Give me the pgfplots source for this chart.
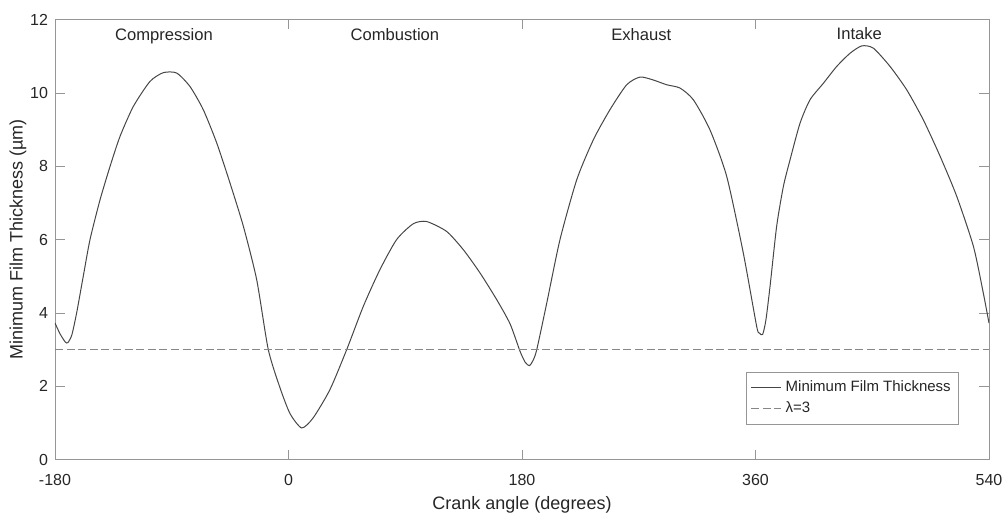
\documentclass[border=0pt]{standalone}
\usepackage{fontspec}
\setmainfont{Liberation Sans}
\usepackage{pgfplots}
\pgfplotsset{compat=1.18}
\definecolor{axgray}{RGB}{150,150,150}
\definecolor{curve}{RGB}{70,70,70}
\definecolor{txt}{RGB}{38,38,38}
\begin{document}
\begin{tikzpicture}
\begin{axis}[
    scale only axis,
    width=467pt, height=220pt,
    xmin=-180, xmax=540, ymin=0, ymax=12,
    xtick={-180,0,180,360,540},
    ytick={0,2,4,6,8,10,12},
    tick align=inside,
    major tick length=5pt,
    axis line style={axgray},
    tick style={axgray},
    /pgf/number format/assume math mode=true,
    ticklabel style={font=\fontsize{8}{9}\selectfont, text=txt},
    xticklabel style={yshift=-4pt},
    xlabel={Crank angle (degrees)},
    ylabel={Minimum Film Thickness (µm)},
    label style={font=\fontsize{9}{10}\selectfont, text=txt},
    xlabel style={yshift=1.5pt},
    ylabel style={yshift=-5pt},
    legend style={at={(rel axis cs:0.968,0.08)}, anchor=south east,
        draw=axgray, font=\fontsize{7.5}{9}\selectfont, text=txt,
        inner sep=2pt, row sep=0pt},
    legend cell align=left,
    legend image code/.code={\draw[#1] (0cm,0cm) -- (15pt,0cm);},
]
\addplot[curve, line width=0.5pt, smooth, tension=0.4] coordinates {
(-180,3.72) (-176,3.42) (-172,3.20) (-170,3.19) (-167,3.40) (-163.3,4.0)
(-158.2,5.0) (-153,6.0) (-145.3,7.08) (-137.6,7.99) (-129.9,8.81)
(-119.6,9.63) (-106.8,10.31) (-96.5,10.55) (-86.2,10.54) (-75.9,10.17)
(-65.7,9.54) (-55.3,8.63) (-45.1,7.54) (-34.8,6.36) (-24.5,4.90)
(-15.6,3.0) (-6.5,1.95) (1.2,1.25) (10.2,0.86) (19.1,1.14) (32,1.91)
(44.9,3.0) (57.7,4.18) (70.5,5.18) (83.4,6.0) (96.2,6.43) (106.5,6.49)
(121.9,6.22) (134.8,5.72) (147.6,5.09) (160.5,4.36) (170.8,3.7)
(178.5,2.95) (182.5,2.65) (185.7,2.56) (188.5,2.70) (191.4,3.0)
(199.1,4.27) (209.3,6.0) (222.2,7.63) (235,8.72) (247.8,9.54)
(260.7,10.22) (271,10.43) (281.2,10.35) (291.5,10.22) (301.8,10.13)
(312.1,9.81) (324.9,8.99) (337.8,7.72) (350.6,5.63) (360.9,3.63)
(363,3.45) (365.5,3.41) (368,3.80) (371.2,4.72) (376.3,6.36)
(381.5,7.45) (386.6,8.17) (394.3,9.17) (402,9.81) (412.3,10.26)
(422.6,10.72) (432.9,11.08) (441.9,11.28) (450.8,11.22) (463.7,10.72)
(476.6,10.08) (489.4,9.26) (502.3,8.27) (515.1,7.18) (528,5.81)
(535.6,4.54) (540,3.72)
};
\addlegendentry{Minimum Film Thickness}
\addplot[axgray!90!black, line width=0.5pt, dash pattern=on 4pt off 1.8pt] coordinates {(-180,3) (540,3)};
\addlegendentry{λ=3}
\node[font=\fontsize{8.3}{9}\selectfont, text=txt, anchor=base] at (axis cs:-96,11.42) {Compression};
\node[font=\fontsize{8.3}{9}\selectfont, text=txt, anchor=base] at (axis cs:82,11.42) {Combustion};
\node[font=\fontsize{8.3}{9}\selectfont, text=txt, anchor=base] at (axis cs:272,11.42) {Exhaust};
\node[font=\fontsize{8.3}{9}\selectfont, text=txt, anchor=base] at (axis cs:440,11.45) {Intake};
\end{axis}
\pgfresetboundingbox
\path ([shift={(-27.5pt,-27pt)}]current axis.south west) rectangle ([shift={(7.5pt,9.75pt)}]current axis.north east);
\end{tikzpicture}
\end{document}
